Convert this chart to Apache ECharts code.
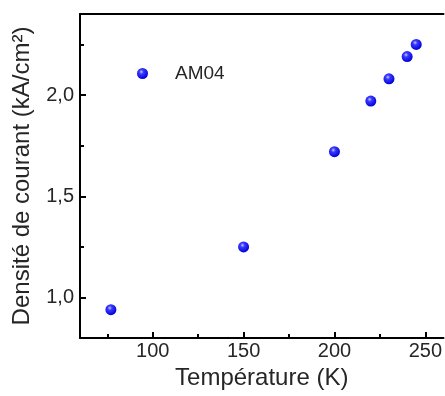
<!DOCTYPE html>
<html>
<head>
<meta charset="utf-8">
<script src="https://cdn.jsdelivr.net/npm/echarts@6/dist/echarts.min.js"></script>
<style>
    html, body { margin: 0; padding: 0; background: #fff; }
    #chart { width: 445px; height: 396px; }
</style>
</head>
<body>
<div id="chart"></div>
<script>
// température (K) et densité de courant (kA/cm²) - échantillon AM04
var temperatures = [77, 150, 200, 220, 230, 240, 245];
var densites = [0.94, 1.25, 1.72, 1.97, 2.08, 2.19, 2.25];
var xMajorTicks = [100, 150, 200, 250];
var xMinorTicks = [75, 125, 175, 225];
var yMajorTicks = [1.0, 1.5, 2.0];
var yMinorTicks = [1.25, 1.75, 2.25];
var serieNom = 'AM04';

var chart = echarts.init(document.getElementById('chart'));
var police = 'Liberation Sans, Arial, sans-serif';
var texte = '#262626';

var bille = new echarts.graphic.RadialGradient(0.4, 0.35, 0.65, [
    {offset: 0, color: '#c8c8ff'},
    {offset: 0.3, color: '#3b3bff'},
    {offset: 1, color: '#0000d8'}
]);

var points = temperatures.map(function(t, i) {
    return [t, densites[i]];
});

function axeX(extra) {
    return Object.assign({
        type: 'value',
        min: 60,
        max: 260,
        splitLine: {show: false},
        axisLabel: {show: false},
        axisTick: {show: false},
        axisLine: {show: false}
    }, extra);
}

function axeY(extra) {
    return Object.assign({
        type: 'value',
        min: 0.8,
        max: 2.4,
        splitLine: {show: false},
        axisLabel: {show: false},
        axisTick: {show: false},
        axisLine: {show: false}
    }, extra);
}

var option = {
    animation: false,
    backgroundColor: '#fff',
    grid: {left: 80, top: 14, right: -2, bottom: 58},
    legend: {
        data: [serieNom],
        left: 132,
        top: 59,
        icon: 'circle',
        itemWidth: 11,
        itemHeight: 11,
        textStyle: {
            fontFamily: police,
            fontSize: 19,
            color: texte,
            padding: [0, 0, 0, 22]
        }
    },
    xAxis: [
        axeX({
            position: 'bottom',
            name: 'Température (K)',
            nameLocation: 'middle',
            nameGap: 27,
            nameTextStyle: {fontFamily: police, fontSize: 24, color: texte},
            axisLine: {show: true, onZero: false, lineStyle: {color: '#000', width: 2}},
            axisTick: {show: true, inside: true, length: 6, customValues: xMajorTicks,
                lineStyle: {color: '#000', width: 2}},
            axisLabel: {show: true, margin: 3, customValues: xMajorTicks,
                fontFamily: police, fontSize: 20, color: texte}
        }),
        axeX({
            position: 'bottom',
            axisTick: {show: true, inside: true, length: 4, customValues: xMinorTicks,
                lineStyle: {color: '#000', width: 2}}
        }),
        axeX({
            position: 'top',
            axisLine: {show: true, onZero: false, lineStyle: {color: '#000', width: 2}}
        })
    ],
    yAxis: [
        axeY({
            position: 'left',
            name: 'Densité de courant (kA/cm²)',
            nameLocation: 'middle',
            nameGap: 46,
            nameTextStyle: {fontFamily: police, fontSize: 24, color: texte},
            axisLine: {show: true, onZero: false, lineStyle: {color: '#000', width: 2}},
            axisTick: {show: true, inside: true, length: 6, customValues: yMajorTicks,
                lineStyle: {color: '#000', width: 2}},
            axisLabel: {show: true, margin: 6, customValues: yMajorTicks,
                fontFamily: police, fontSize: 20, color: texte,
                formatter: function(v) {
                    return v.toFixed(1).replace('.', ',');
                }}
        }),
        axeY({
            position: 'left',
            axisTick: {show: true, inside: true, length: 4, customValues: yMinorTicks,
                lineStyle: {color: '#000', width: 2}}
        })
    ],
    series: [{
        name: serieNom,
        type: 'scatter',
        xAxisIndex: 0,
        yAxisIndex: 0,
        symbol: 'circle',
        symbolSize: 11,
        itemStyle: {color: bille, opacity: 1},
        data: points
    }]
};

chart.setOption(option);
</script>
</body>
</html>
